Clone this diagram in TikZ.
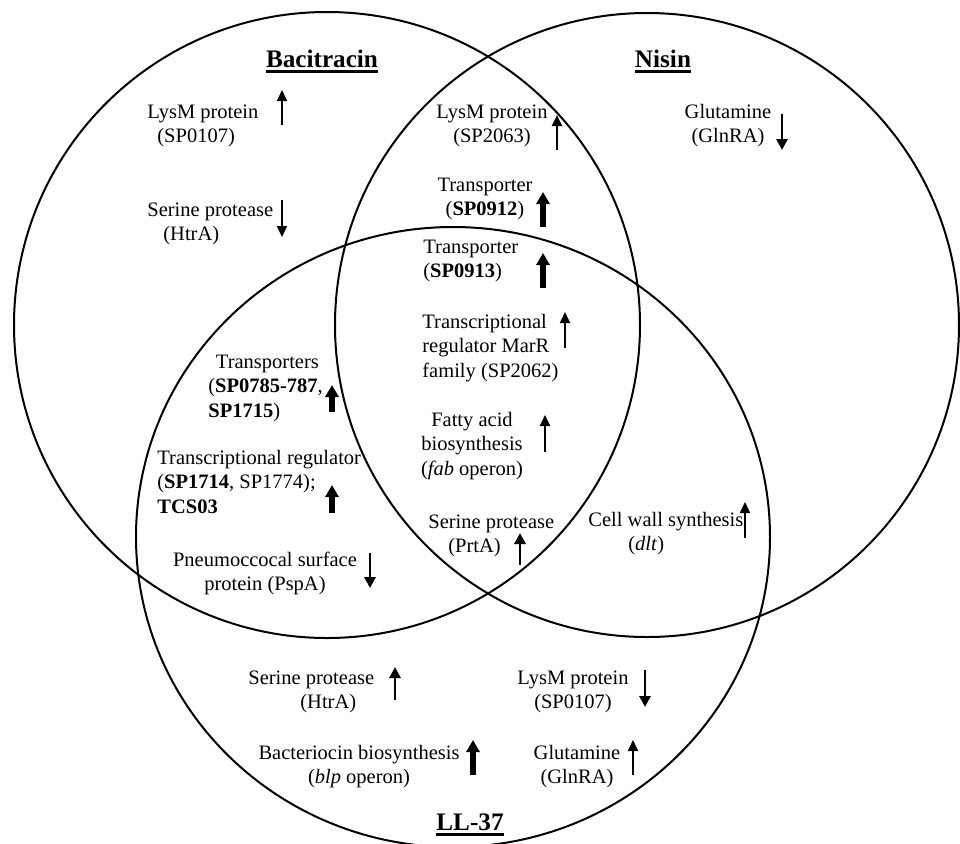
\documentclass[tikz,border=0pt]{standalone}
\usepackage{fontspec}
\setmainfont{Liberation Serif}
\usetikzlibrary{arrows.meta}
\begin{document}
\begin{tikzpicture}[x=0.5pt,y=-0.5pt,
    gene/.style={align=center,inner sep=0pt,anchor=base,font=\fontsize{10.25}{12.3}\selectfont},
    leftgene/.style={gene,align=left,anchor=base west},
    drug/.style={inner sep=0pt,anchor=base,font=\fontsize{12.6}{14}\selectfont\bfseries},
    smallarrow/.style={line width=0.9pt,-{Triangle[width=5pt,length=5.5pt]}},
    midarrow/.style={line width=1.4pt,-{Triangle[width=5.5pt,length=5.5pt]}},
    bigarrow/.style={line width=2.6pt,-{Triangle[width=6.5pt,length=6pt]}}]
        \useasboundingbox (0,0) rectangle (960,843);
        %draw the three circles
        \draw[line width=1pt] (327,325) circle [radius=313];
        \draw[line width=1pt] (647,325) circle [radius=312];
        \draw[line width=1pt] (453,537) ellipse [x radius=317, y radius=310];
        % label the three drugs
        \node[drug] (bac) at (322,67) {Bacitracin};
        \node[drug] (nis) at (663,67) {Nisin};
        \node[drug] (ll) at (470,830) {LL-37};
        \foreach \d in {bac,nis,ll}
            \draw[line width=1.3pt] ([yshift=-2.2pt]\d.base west) -- ([yshift=-2.2pt]\d.base east);

        % bacitracin only
        \node[leftgene] (baclysm) at (147,142.6) {LysM protein\\\hspace*{5pt}(SP0107)};
        \draw[smallarrow] (282,125) -- (282,90);
        \node[leftgene] (bachtra) at (147,240.6) {Serine protease\\\hspace*{8pt}(HtrA)};
        \draw[smallarrow] (282,200) -- (282,237);

        % nisin only
        \node[gene] (nisgln) at (728,142.6) {Glutamine\\(GlnRA)};
        \draw[midarrow] (782,114) -- (782,150);

        % bacitracin and nisin
        \node[gene] (sp2063) at (492,142.6) {LysM protein\\(SP2063)};
        \draw[smallarrow] (557,150) -- (557,115);
        \node[gene] (sp0912) at (485,215.6) {Transporter\\(\textbf{SP0912})};
        \draw[bigarrow] (543,227) -- (543,192);

        % all three
        \node[leftgene] (sp0913) at (423,277.6) {Transporter\\(\textbf{SP0913})};
        \draw[bigarrow] (543,288) -- (543,253);
        \node[leftgene] (marr) at (422,377.2) {Transcriptional\\regulator MarR\\family (SP2062)};
        \draw[smallarrow] (565,348) -- (565,312);
        \node[gene] (fab) at (472,475.2) {Fatty acid\\biosynthesis\\(\textit{fab} operon)};
        \draw[smallarrow] (545,452) -- (545,415);
        \node[leftgene] (prta) at (428,552.6) {Serine protease\\\hspace*{10pt}(PrtA)};
        \draw[midarrow] (520,565) -- (520,533);

        % bacitracin and LL-37
        \node[leftgene] (sp0785) at (208,417.2) {\hspace*{0.37em}Transporters\\(\textbf{SP0785-787},\\\textbf{SP1715})};
        \draw[bigarrow] (332,412) -- (332,385);
        \node[leftgene] (sp1714) at (157,513.2) {Transcriptional regulator\\(\textbf{SP1714}, SP1774);\\\textbf{TCS03}};
        \draw[bigarrow] (332,513) -- (332,485);
        \node[gene] (pspa) at (265,590.6) {Pneumoccocal surface\\protein (PspA)};
        \draw[midarrow] (370,553) -- (370,588);

        % nisin and LL-37
        \node[leftgene] (dlt) at (588,550.6) {Cell wall synthesis\\\hspace*{20pt}(\textit{dlt})};
        \draw[smallarrow] (745,538) -- (745,502);

        % LL-37 only
        \node[leftgene] (llhtra) at (248,708.6) {Serine protease\\\hspace*{26pt}(HtrA)};
        \draw[midarrow] (395,700) -- (395,667);
        \node[gene] (blp) at (359,783.6) {Bacteriocin biosynthesis\\(\textit{blp} operon)};
        \draw[bigarrow] (473,775) -- (473,740);
        \node[gene] (lllysm) at (573,708.6) {LysM protein\\(SP0107)};
        \draw[midarrow] (645,670) -- (645,707);
        \node[gene] (llgln) at (577,783.6) {Glutamine\\(GlnRA)};
        \draw[smallarrow] (633,775) -- (633,740);
\end{tikzpicture}
\end{document}
